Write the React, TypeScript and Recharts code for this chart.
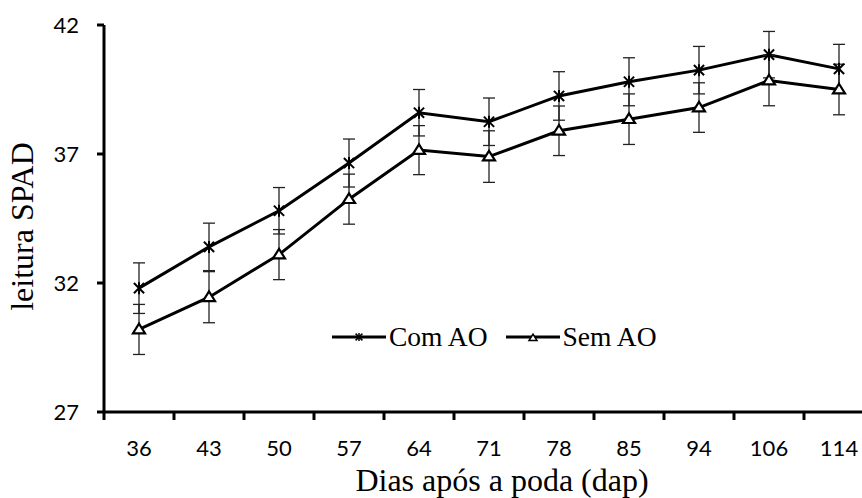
import React from "react";
import { LineChart, Line, XAxis, YAxis, ErrorBar, Legend, Label } from "recharts";

const dias = ["36", "43", "50", "57", "64", "71", "78", "85", "94", "106", "114"];
const comAO = [31.8, 33.4, 34.8, 36.65, 38.6, 38.25, 39.25, 39.8, 40.25, 40.85, 40.3];
const comAOErro = [0.98, 0.92, 0.9, 0.93, 0.9, 0.92, 0.94, 0.93, 0.92, 0.9, 0.95];
const semAO = [30.2, 31.45, 33.1, 35.25, 37.15, 36.9, 37.9, 38.35, 38.8, 39.85, 39.5];
const semAOErro = [0.97, 0.99, 0.97, 0.97, 0.95, 1.0, 0.96, 0.98, 0.96, 0.98, 0.98];
const yTicks = [27, 32, 37, 42];

const rows = dias.map((dia, i) => ({
  dia,
  com: comAO[i],
  comErro: comAOErro[i],
  sem: semAO[i],
  semErro: semAOErro[i],
}));

const SERIF = "'Liberation Serif', 'Times New Roman', serif";
const SANS = "Lato, 'Open Sans', sans-serif";
const TICK_LEN = 8;
const TICK_GAP = 20;

// asterisk marker (x + vertical stroke)
function Asterisco({ cx, cy, r = 6, sw = 2 }: any) {
  if (cx == null || cy == null) return null;
  const d = r * 0.85;
  return (
    <g stroke="#000" strokeWidth={sw} strokeLinecap="butt">
      <line x1={cx - d} y1={cy - d} x2={cx + d} y2={cy + d} />
      <line x1={cx - d} y1={cy + d} x2={cx + d} y2={cy - d} />
      <line x1={cx} y1={cy - r} x2={cx} y2={cy + r} />
    </g>
  );
}

function Triangulo({ cx, cy, r = 6, sw = 2.2 }: any) {
  if (cx == null || cy == null) return null;
  const h = r * 1.6;
  const pts = `${cx},${cy - h * 0.6} ${cx + r},${cy + h * 0.4} ${cx - r},${cy + h * 0.4}`;
  return <polygon points={pts} fill="#fff" stroke="#000" strokeWidth={sw} strokeLinejoin="miter" />;
}

// category labels centred in the band, tick marks on the band edges
function DiaTick(props: any) {
  const { x, y, payload } = props;
  const half = payload?.offset ?? 0;
  const axisY = y - TICK_LEN - TICK_GAP;
  return (
    <g>
      <line x1={x - half} x2={x - half} y1={axisY} y2={axisY + TICK_LEN} stroke="#000" strokeWidth={3} />
      <text x={x} y={y} dy="0.71em" textAnchor="middle" fill="#000" fontSize={22} fontFamily={SANS}>
        {payload.value}
      </text>
    </g>
  );
}

function YTitle({ viewBox }: any) {
  const cx = viewBox.x + 33;
  const cy = viewBox.y + viewBox.height / 2 + 8;
  return (
    <text
      x={cx}
      y={cy}
      transform={`rotate(-90, ${cx}, ${cy})`}
      textAnchor="middle"
      fontFamily={SERIF}
      fontSize={32}
      fill="#000"
    >
      leitura SPAD
    </text>
  );
}

function Legenda({ payload }: any) {
  return (
    <div style={{ display: "flex", alignItems: "center", fontFamily: SERIF, fontSize: 27.5, color: "#000" }}>
      {(payload || []).map((item: any) => (
        <div key={item.value} style={{ display: "flex", alignItems: "center", marginRight: 18 }}>
          <svg width={54} height={16}>
            <line x1={0} x2={54} y1={8} y2={8} stroke="#000" strokeWidth={3} />
            {item.dataKey === "com" ? (
              <Asterisco cx={27} cy={8} r={4} sw={1.5} />
            ) : (
              <Triangulo cx={27} cy={9} r={4} sw={1.5} />
            )}
          </svg>
          <span style={{ marginLeft: 3, lineHeight: "30px" }}>{item.value}</span>
        </div>
      ))}
    </div>
  );
}

export default function App() {
  return (
    <div
      style={{
        position: "absolute",
        left: 0,
        top: 0,
        width: 862,
        height: 498,
        overflow: "hidden",
        background: "#fff",
      }}
    >
      <LineChart width={880} height={498} data={rows} margin={{ top: 25, right: 6, bottom: 0, left: 0 }}>
        <XAxis
          dataKey="dia"
          scale="band"
          interval={0}
          height={86}
          tickSize={TICK_LEN}
          tickMargin={TICK_GAP}
          tickLine={false}
          axisLine={{ stroke: "#000", strokeWidth: 3 }}
          tick={<DiaTick />}
        >
          <Label
            value="Dias após a poda (dap)"
            position="insideBottom"
            offset={7}
            dx={13}
            style={{ fontFamily: SERIF, fontSize: 32, fill: "#000" }}
          />
        </XAxis>
        <YAxis
          type="number"
          domain={[27, 42]}
          ticks={yTicks}
          width={104}
          tickSize={7}
          tickMargin={18}
          axisLine={{ stroke: "#000", strokeWidth: 3 }}
          tickLine={{ stroke: "#000", strokeWidth: 3 }}
          tick={{ fill: "#000", fontSize: 22, fontFamily: SANS }}
        >
          <Label content={<YTitle />} />
        </YAxis>
        <Legend
          layout="horizontal"
          verticalAlign="middle"
          align="center"
          content={<Legenda />}
          wrapperStyle={{ top: 322, left: 332, width: "auto" }}
        />
        <Line
          dataKey="com"
          name="Com AO"
          stroke="#000"
          strokeWidth={3}
          dot={(p: any) => <Asterisco key={`c${p.index}`} cx={p.cx} cy={p.cy} />}
          activeDot={false}
          isAnimationActive={false}
        >
          <ErrorBar dataKey="comErro" direction="y" width={6} stroke="#222" strokeWidth={1.3} />
        </Line>
        <Line
          dataKey="sem"
          name="Sem AO"
          stroke="#000"
          strokeWidth={3}
          dot={(p: any) => <Triangulo key={`s${p.index}`} cx={p.cx} cy={p.cy} />}
          activeDot={false}
          isAnimationActive={false}
        >
          <ErrorBar dataKey="semErro" direction="y" width={6} stroke="#222" strokeWidth={1.3} />
        </Line>
      </LineChart>
    </div>
  );
}
